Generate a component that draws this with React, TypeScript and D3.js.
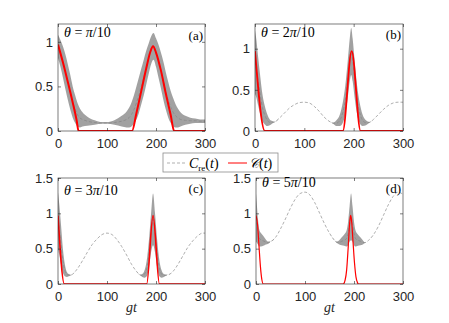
import React, { useRef, useEffect } from "react";
import * as d3 from "d3";

const W = 449;
const H = 323;

// C_re(t) envelope: [t, lower, upper] (equal where the curve is smooth)
const reA: [number, number, number][] = [
  [0, 0.82, 1.08], [5, 0.72, 1.02], [10, 0.6, 0.95], [15, 0.47, 0.86], [20, 0.35, 0.75],
  [25, 0.24, 0.63], [30, 0.15, 0.5], [35, 0.09, 0.4], [40, 0.05, 0.31], [45, 0.04, 0.25],
  [50, 0.05, 0.21], [60, 0.06, 0.16], [75, 0.07, 0.12], [90, 0.08, 0.1], [100, 0.08, 0.1],
  [115, 0.07, 0.12], [130, 0.05, 0.17], [140, 0.04, 0.22], [145, 0.04, 0.26], [150, 0.05, 0.32],
  [155, 0.08, 0.4], [160, 0.13, 0.5], [165, 0.2, 0.6], [170, 0.3, 0.7], [175, 0.4, 0.8],
  [180, 0.52, 0.9], [185, 0.64, 0.98], [190, 0.75, 1.06], [195, 0.8, 1.1], [200, 0.72, 1.04],
  [205, 0.6, 0.97], [210, 0.48, 0.88], [215, 0.35, 0.78], [220, 0.24, 0.66], [225, 0.15, 0.55],
  [230, 0.09, 0.45], [235, 0.05, 0.37], [240, 0.04, 0.3], [245, 0.04, 0.25], [250, 0.05, 0.21],
  [260, 0.07, 0.17], [270, 0.08, 0.15], [280, 0.09, 0.14], [290, 0.09, 0.13], [300, 0.09, 0.13],
];
const reB: [number, number, number][] = [
  [0, 0.45, 1.22], [3, 0.4, 1.1], [6, 0.32, 0.92], [10, 0.22, 0.7], [15, 0.12, 0.45],
  [20, 0.08, 0.3], [25, 0.06, 0.2], [30, 0.07, 0.14], [35, 0.09, 0.12], [40, 0.11, 0.11],
  [50, 0.16, 0.16], [60, 0.22, 0.22], [70, 0.28, 0.28], [80, 0.32, 0.32], [90, 0.345, 0.345],
  [100, 0.35, 0.35], [110, 0.34, 0.34], [120, 0.3, 0.3], [130, 0.24, 0.24], [140, 0.17, 0.17],
  [150, 0.12, 0.12], [158, 0.09, 0.1], [165, 0.06, 0.13], [172, 0.06, 0.2], [178, 0.1, 0.35],
  [183, 0.2, 0.55], [188, 0.4, 0.85], [192, 0.6, 1.12], [195, 0.68, 1.25], [198, 0.6, 1.12],
  [202, 0.4, 0.85], [207, 0.2, 0.55], [212, 0.1, 0.35], [218, 0.06, 0.2], [225, 0.07, 0.13],
  [232, 0.1, 0.11], [240, 0.14, 0.14], [250, 0.2, 0.2], [260, 0.26, 0.26], [270, 0.31, 0.31],
  [280, 0.34, 0.34], [290, 0.35, 0.35], [300, 0.35, 0.35],
];
const reC: [number, number, number][] = [
  [0, 0.5, 1.3], [3, 0.4, 1.1], [6, 0.28, 0.85], [10, 0.16, 0.5], [14, 0.11, 0.28],
  [18, 0.1, 0.17], [22, 0.11, 0.14], [26, 0.12, 0.13], [30, 0.14, 0.14], [40, 0.22, 0.22],
  [50, 0.33, 0.33], [60, 0.45, 0.45], [70, 0.56, 0.56], [80, 0.64, 0.64], [90, 0.7, 0.7],
  [100, 0.72, 0.72], [110, 0.7, 0.7], [120, 0.63, 0.63], [130, 0.53, 0.53], [140, 0.41, 0.41],
  [150, 0.28, 0.28], [160, 0.18, 0.18], [167, 0.13, 0.13], [172, 0.1, 0.14], [177, 0.09, 0.2],
  [182, 0.12, 0.38], [186, 0.25, 0.65], [190, 0.45, 1.0], [194, 0.55, 1.28], [198, 0.45, 1.0],
  [202, 0.25, 0.65], [206, 0.12, 0.38], [211, 0.09, 0.2], [216, 0.1, 0.14], [221, 0.12, 0.13],
  [225, 0.13, 0.13], [235, 0.18, 0.18], [245, 0.28, 0.28], [255, 0.4, 0.4], [265, 0.52, 0.52],
  [275, 0.61, 0.61], [285, 0.68, 0.68], [295, 0.72, 0.72], [300, 0.72, 0.72],
];
const reD: [number, number, number][] = [
  [0, 0.6, 1.28], [2, 0.58, 1.1], [4, 0.56, 0.92], [7, 0.53, 0.76], [10, 0.53, 0.72],
  [15, 0.54, 0.68], [20, 0.56, 0.63], [25, 0.57, 0.6], [30, 0.6, 0.6], [40, 0.66, 0.66],
  [50, 0.78, 0.78], [60, 0.92, 0.92], [70, 1.07, 1.07], [80, 1.2, 1.2], [90, 1.28, 1.28],
  [100, 1.3, 1.3], [110, 1.26, 1.26], [120, 1.15, 1.15], [130, 1.0, 1.0], [140, 0.85, 0.85],
  [150, 0.72, 0.72], [160, 0.62, 0.62], [165, 0.58, 0.6], [170, 0.56, 0.62], [175, 0.55, 0.66],
  [180, 0.54, 0.7], [185, 0.53, 0.76], [188, 0.55, 0.88], [191, 0.6, 1.1], [194, 0.62, 1.28],
  [197, 0.6, 1.1], [200, 0.55, 0.88], [203, 0.53, 0.76], [208, 0.54, 0.7], [213, 0.55, 0.66],
  [218, 0.56, 0.62], [222, 0.58, 0.59], [230, 0.62, 0.62], [240, 0.7, 0.7], [250, 0.82, 0.82],
  [260, 0.97, 0.97], [270, 1.12, 1.12], [280, 1.24, 1.24], [290, 1.3, 1.3], [300, 1.27, 1.27],
];

// C(t): [t, value]
const cA: [number, number][] = [
  [0, 0.97], [10, 0.77], [20, 0.55], [30, 0.32], [38, 0.12], [42, 0],
  [151, 0], [160, 0.2], [170, 0.45], [180, 0.7], [188, 0.88], [194, 0.95], [200, 0.88],
  [210, 0.68], [220, 0.42], [230, 0.18], [237, 0], [300, 0],
];
const cB: [number, number][] = [[0, 0.97], [20, 0], [178, 0], [196, 0.97], [214, 0], [300, 0]];
const cC: [number, number][] = [[0, 0.97], [13, 0], [181, 0], [194, 0.97], [207, 0], [300, 0]];
const cD: [number, number][] = [
  [0, 0.97], [3, 0.85], [6, 0.55], [9, 0.25], [12, 0.06], [15, 0],
  [178, 0], [182, 0.06], [185, 0.2], [188, 0.5], [191, 0.85], [193, 0.97], [195, 0.9],
  [198, 0.6], [201, 0.3], [204, 0.1], [207, 0.02], [209, 0], [300, 0],
];

const xTicks = [0, 100, 200, 300];
const yTicksTop = [0, 0.5, 1];
const yTicksBottom = [0, 0.5, 1, 1.5];
const thetaNums = ["", "2", "3", "5"];
const panelTags = ["(a)", "(b)", "(c)", "(d)"];
const legendLabels = ["re", "C"];

const panels = [
  { re: reA, c: cA, ymax: 1.2, yTicks: yTicksTop, box: [58, 205, 24, 131], thetaY: 37, tagY: 40, redW: 2 },
  { re: reB, c: cB, ymax: 1.3, yTicks: yTicksTop, box: [255, 403, 24, 131], thetaY: 37, tagY: 39, redW: 1.8 },
  { re: reC, c: cC, ymax: 1.5, yTicks: yTicksBottom, box: [58, 205, 178, 284], thetaY: 195, tagY: 193, redW: 1.6 },
  { re: reD, c: cD, ymax: 1.5, yTicks: yTicksBottom, box: [256, 403, 178, 284], thetaY: 187, tagY: 193, redW: 1.2 },
];

const SANS = "'Liberation Sans', Arial, sans-serif";
const SERIF = "'Liberation Serif', 'Times New Roman', serif";

export default function App() {
  const svgRef = useRef<SVGSVGElement>(null);

  useEffect(() => {
    const svg = d3.select(svgRef.current);
    svg.selectAll("*").remove();

    panels.forEach((p, i) => {
      const [l, r, t, b] = p.box;
      const x = d3.scaleLinear().domain([0, 300]).range([l, r]);
      const y = d3.scaleLinear().domain([0, p.ymax]).range([b, t]);
      const g = svg.append("g");

      const clipId = `clip-${i}`;
      g.append("clipPath")
        .attr("id", clipId)
        .append("rect")
        .attr("x", l)
        .attr("y", t)
        .attr("width", r - l)
        .attr("height", b - t);

      const plot = g.append("g").attr("clip-path", `url(#${clipId})`);

      // smooth dashed part of C_re(t)
      plot
        .append("path")
        .datum(p.re)
        .attr("fill", "none")
        .attr("stroke", "#a6a6a6")
        .attr("stroke-width", 0.9)
        .attr("stroke-dasharray", "3,2")
        .attr(
          "d",
          d3
            .line<[number, number, number]>()
            .x((d) => x(d[0]))
            .y((d) => y((d[1] + d[2]) / 2))
            .curve(d3.curveMonotoneX)
        );

      // fast oscillation band of C_re(t)
      plot
        .append("path")
        .datum(p.re)
        .attr("fill", "#828282")
        .attr("fill-opacity", 0.75)
        .attr(
          "d",
          d3
            .area<[number, number, number]>()
            .x((d) => x(d[0]))
            .y0((d) => y(d[1]))
            .y1((d) => y(d[2]))
            .curve(d3.curveMonotoneX)
        );

      // C(t)
      plot
        .append("path")
        .datum(p.c)
        .attr("fill", "none")
        .attr("stroke", "#ff0000")
        .attr("stroke-width", p.redW)
        .attr("stroke-linejoin", "round")
        .attr(
          "d",
          d3
            .line<[number, number]>()
            .x((d) => x(d[0]))
            .y((d) => y(d[1]))
            .curve(d3.curveMonotoneX)
        );

      // axes, MATLAB style inward ticks
      const styleAxis = (sel: any) => {
        sel.select(".domain").remove();
        sel.selectAll(".tick line").attr("stroke", "#262626").attr("stroke-width", 0.6);
        sel.selectAll("text").attr("fill", "#262626").style("font-family", SANS).style("font-size", "13px");
      };

      g.append("g")
        .attr("transform", `translate(0,${b})`)
        .call(d3.axisBottom(x).tickValues(xTicks).tickSize(-3).tickPadding(8).tickFormat(d3.format("d")))
        .call(styleAxis);
      g.append("g")
        .attr("transform", `translate(0,${t})`)
        .call(d3.axisTop(x).tickValues(xTicks).tickSize(-3).tickFormat(() => ""))
        .call(styleAxis);
      g.append("g")
        .attr("transform", `translate(${l},0)`)
        .call(d3.axisLeft(y).tickValues(p.yTicks).tickSize(-3).tickPadding(5).tickFormat(d3.format("")))
        .call(styleAxis);
      g.append("g")
        .attr("transform", `translate(${r},0)`)
        .call(d3.axisRight(y).tickValues(p.yTicks).tickSize(-3).tickFormat(() => ""))
        .call(styleAxis);

      g.append("rect")
        .attr("x", l)
        .attr("y", t)
        .attr("width", r - l)
        .attr("height", b - t)
        .attr("fill", "none")
        .attr("stroke", "#262626")
        .attr("stroke-width", 0.6);

      // theta label
      const th = g
        .append("text")
        .attr("x", l + 6)
        .attr("y", p.thetaY)
        .attr("font-family", SERIF)
        .attr("font-size", 14)
        .attr("fill", "#000");
      th.append("tspan").attr("font-style", "italic").text("θ");
      th.append("tspan").text(` = ${thetaNums[i]}`);
      th.append("tspan").attr("font-style", "italic").text("π");
      th.append("tspan").text("/10");

      g.append("text")
        .attr("x", r - 2)
        .attr("y", p.tagY)
        .attr("text-anchor", "end")
        .attr("font-family", SERIF)
        .attr("font-size", 13)
        .attr("fill", "#000")
        .text(panelTags[i]);

      if (i >= 2) {
        g.append("text")
          .attr("x", (l + r) / 2)
          .attr("y", 312)
          .attr("text-anchor", "middle")
          .attr("font-family", SERIF)
          .attr("font-style", "italic")
          .attr("font-size", 14)
          .attr("fill", "#262626")
          .text("gt");
      }
    });

    // legend
    const lg = svg.append("g");
    lg.append("rect")
      .attr("x", 163)
      .attr("y", 153)
      .attr("width", 115)
      .attr("height", 19)
      .attr("fill", "#fff")
      .attr("stroke", "#8c8c8c")
      .attr("stroke-width", 0.8);
    lg.append("line")
      .attr("x1", 167)
      .attr("x2", 186)
      .attr("y1", 163)
      .attr("y2", 163)
      .attr("stroke", "#a6a6a6")
      .attr("stroke-width", 0.9)
      .attr("stroke-dasharray", "3,2");
    const t1 = lg
      .append("text")
      .attr("x", 189)
      .attr("y", 168)
      .attr("font-family", SERIF)
      .attr("font-size", 14)
      .attr("fill", "#000");
    t1.append("tspan").attr("font-style", "italic").text("C");
    t1.append("tspan").attr("font-size", 9).attr("dy", 3).text(legendLabels[0]);
    t1.append("tspan").attr("dy", -3).text("(");
    t1.append("tspan").attr("font-style", "italic").text("t");
    t1.append("tspan").text(")");
    lg.append("line")
      .attr("x1", 228)
      .attr("x2", 247)
      .attr("y1", 163)
      .attr("y2", 163)
      .attr("stroke", "#ff0000")
      .attr("stroke-width", 1);
    const t2 = lg
      .append("text")
      .attr("x", 249)
      .attr("y", 168)
      .attr("font-family", SERIF)
      .attr("font-size", 14)
      .attr("fill", "#000");
    t2.append("tspan").attr("font-style", "italic").text("𝒞");
    t2.append("tspan").text("(");
    t2.append("tspan").attr("font-style", "italic").text("t");
    t2.append("tspan").text(")");
  }, []);

  return (
    <svg
      ref={svgRef}
      width={W}
      height={H}
      style={{ position: "absolute", left: 0, top: 0, background: "#fff" }}
    />
  );
}
